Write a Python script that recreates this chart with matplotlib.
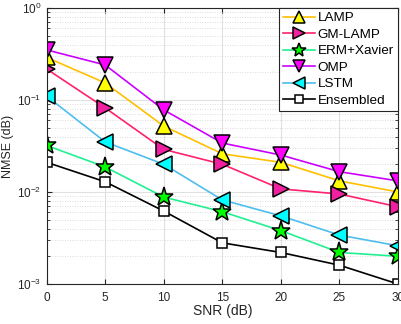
import numpy as np
import matplotlib
matplotlib.use("Agg")
import matplotlib.pyplot as plt
from matplotlib.ticker import LogLocator, NullFormatter

plt.rcParams["font.family"] = ["Liberation Sans", "DejaVu Sans"]
plt.rcParams["mathtext.fontset"] = "custom"
plt.rcParams["mathtext.rm"] = "Liberation Sans"

snr = [0, 5, 10, 15, 20, 25, 30]

lamp = [0.29, 0.153, 0.052, 0.026, 0.021, 0.0132, 0.010]
gm_lamp = [0.217, 0.082, 0.029, 0.020, 0.0108, 0.0095, 0.0069]
erm_xavier = [0.032, 0.0187, 0.0088, 0.0061, 0.0038, 0.0022, 0.0020]
omp = [0.35, 0.24, 0.078, 0.034, 0.0252, 0.0166, 0.0132]
lstm = [0.11, 0.035, 0.020, 0.0082, 0.0055, 0.0034, 0.0026]
ensembled = [0.021, 0.0129, 0.0062, 0.0028, 0.0022, 0.0016, 0.0010]

# label, values, line colour, marker, face colour, marker size
series = [
    ("LAMP", lamp, "#FFC000", "^", "#FFFF00", 11),
    ("GM-LAMP", gm_lamp, "#FF2070", ">", "#F020A0", 11),
    ("ERM+Xavier", erm_xavier, "#20F090", "*", "#00FF00", 14),
    ("OMP", omp, "#CC00FF", "v", "#FF00FF", 11),
    ("LSTM", lstm, "#4DBEEE", "<", "#00FFFF", 11),
    ("Ensembled", ensembled, "black", "s", "white", 7),
]

fig = plt.figure(figsize=(4.02, 3.24), dpi=100)
ax = fig.add_axes([0.116, 0.1235, 0.874, 0.852])

for label, vals, col, mk, face, ms in series:
    ax.plot(snr, vals, color=col, lw=1.2, marker=mk, markersize=ms,
            markerfacecolor=face, markeredgecolor="black", markeredgewidth=1.1,
            label=label)

ax.set_yscale("log")
ax.set_xlim(0, 30)
ax.set_ylim(1e-3, 1)
ax.set_xticks(snr)
ax.yaxis.set_major_locator(LogLocator(base=10, numticks=10))
ax.yaxis.set_minor_locator(LogLocator(base=10, subs=np.arange(2, 10), numticks=10))
ax.yaxis.set_minor_formatter(NullFormatter())

ax.grid(True, which="major", color="#E0E0E0", lw=0.8, ls="-")
ax.grid(True, which="minor", axis="y", color="#D0D0D0", lw=0.6, ls=(0, (1, 2)))
ax.set_axisbelow(True)

ax.tick_params(which="both", direction="in", top=True, right=True,
               labelsize=8.5, colors="#262626")
ax.tick_params(axis="x", pad=6)
ax.tick_params(axis="y", pad=4)
ax.tick_params(which="minor", length=2)
for sp in ax.spines.values():
    sp.set_color("#262626")
    sp.set_linewidth(0.8)

ax.set_xlabel("SNR (dB)", fontsize=10, color="#262626", labelpad=0)
ax.set_ylabel("NMSE (dB)", fontsize=9, color="#262626", labelpad=2)

leg = ax.legend(loc="upper right", fontsize=9.7, markerscale=0.75,
                fancybox=False, framealpha=1, edgecolor="#262626",
                borderaxespad=0, handlelength=2.4, handletextpad=0.2,
                labelspacing=0.3, borderpad=0.3)
leg.get_frame().set_linewidth(0.8)

fig.savefig("out.png", dpi=100)
